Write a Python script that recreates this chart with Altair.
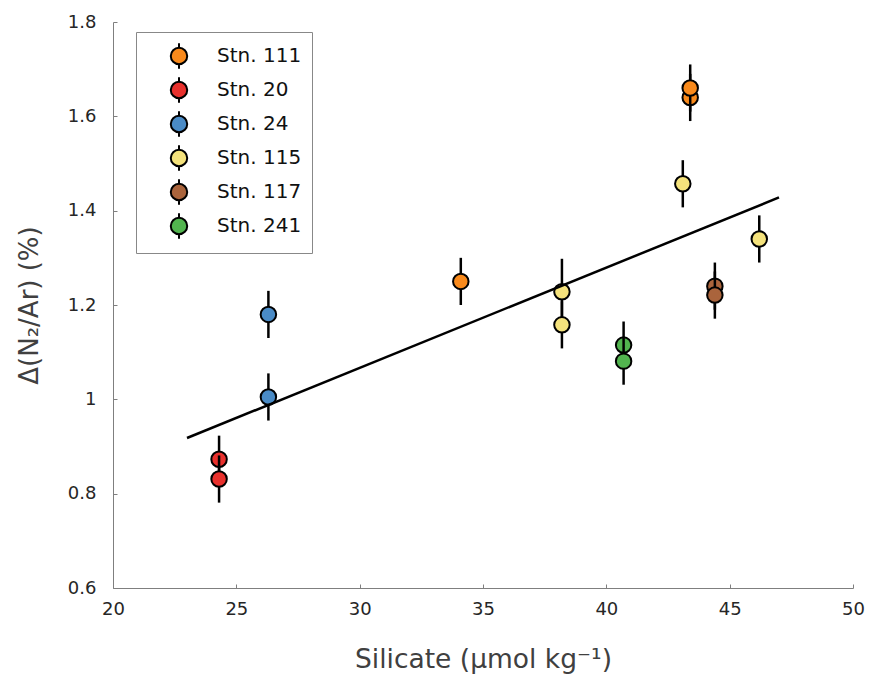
import altair as alt
import pandas as pd

stations = ["Stn. 111", "Stn. 111", "Stn. 111",
            "Stn. 20", "Stn. 20",
            "Stn. 24", "Stn. 24",
            "Stn. 115", "Stn. 115", "Stn. 115", "Stn. 115",
            "Stn. 117", "Stn. 117",
            "Stn. 241", "Stn. 241"]
silicate = [43.4, 43.4, 34.1,
            24.3, 24.3,
            26.3, 26.3,
            43.1, 38.2, 38.2, 46.2,
            44.4, 44.4,
            40.7, 40.7]
dn2ar = [1.66, 1.64, 1.25,
         0.873, 0.831,
         1.18, 1.005,
         1.457, 1.228, 1.158, 1.34,
         1.24, 1.221,
         1.115, 1.081]
err = [0.05, 0.05, 0.05,
       0.05, 0.05,
       0.05, 0.05,
       0.05, 0.07, 0.05, 0.05,
       0.05, 0.05,
       0.05, 0.05]
# drawing pass (0 first, 1 on top) for overlapping pairs
draw_pass = [1, 0, 0,
             0, 1,
             0, 0,
             0, 0, 1, 0,
             0, 1,
             0, 1]

legend_order = ["Stn. 111", "Stn. 20", "Stn. 24", "Stn. 115", "Stn. 117", "Stn. 241"]
legend_colors = ["#F98A1C", "#E8312D", "#4A8BC6", "#F4E27C", "#AA643C", "#52B44F"]

x_ticks = [20, 25, 30, 35, 40, 45, 50]
y_ticks = [0.6, 0.8, 1.0, 1.2, 1.4, 1.6, 1.8]

fit_x = [23.0, 47.0]
fit_y = [0.918, 1.428]

df = pd.DataFrame({"station": stations, "x": silicate, "y": dn2ar, "err": err, "p": draw_pass})
df["lo"] = df["y"] - df["err"]
df["hi"] = df["y"] + df["err"]
fit_df = pd.DataFrame({"x": fit_x, "y": fit_y})
dfA = df[df["p"] == 0]
dfB = df[df["p"] == 1]

W, H = 740, 566
FONT = "DejaVu Sans"
xscale = alt.Scale(domain=[20, 50], nice=False, zero=False)
yscale = alt.Scale(domain=[0.6, 1.8], nice=False, zero=False)

# tick-only axes placed on the opposite side so ticks point inward
tick_x_axis = alt.Axis(orient="top", offset=-H, labels=False, domain=False, ticks=True,
                       tickSize=4, tickColor="#7f7f7f", tickWidth=1, title=None,
                       values=x_ticks, grid=False)
tick_y_axis = alt.Axis(orient="right", offset=-W, labels=False, domain=False, ticks=True,
                       tickSize=4, tickColor="#7f7f7f", tickWidth=1, title=None,
                       values=y_ticks, grid=False)

main_x_axis = alt.Axis(orient="bottom", title="Silicate (\u03bcmol kg\u207b\u00b9)",
                       values=x_ticks, format="d", labelFlush=False,
                       ticks=False, domain=True, domainColor="#7f7f7f", domainWidth=1,
                       labelFontSize=18, labelColor="#262626", labelPadding=12, labelFont=FONT,
                       titleFontSize=26.5, titleColor="#404040", titleFont=FONT,
                       titleFontWeight="normal", titlePadding=28, grid=False)
main_y_axis = alt.Axis(orient="left", title="\u0394(N\u2082/Ar) (%)",
                       values=y_ticks, labelFlush=False,
                       labelExpr="datum.value == 1 ? '1' : format(datum.value, '.1f')",
                       ticks=False, domain=True, domainColor="#7f7f7f", domainWidth=1,
                       labelFontSize=18, labelColor="#262626", labelPadding=17, labelFont=FONT,
                       titleFontSize=26, titleColor="#404040", titleFont=FONT,
                       titleFontWeight="normal", titlePadding=25, grid=False)

color_scale = alt.Scale(domain=legend_order, range=legend_colors)

legend_symbol = "M0,-1L0,-0.64M0.64,0A0.64,0.64,0,1,1,-0.64,0A0.64,0.64,0,1,1,0.64,0M0,0.64L0,1"
legend = alt.Legend(title=None, orient="none", legendX=23, legendY=10,
                    symbolType=legend_symbol, symbolSize=660,
                    symbolStrokeColor="black", symbolStrokeWidth=2,
                    symbolOpacity=1, symbolOffset=19, labelFont=FONT, labelFontSize=20,
                    labelColor="#111111", labelOffset=24, rowPadding=0,
                    padding=10, strokeColor="#888888", fillColor="white",
                    offset=0, labelLimit=250)


def rules(data, xa, ya):
    return alt.Chart(data).mark_rule(color="black", strokeWidth=2.5).encode(
        x=alt.X("x:Q", scale=xscale, axis=xa),
        y=alt.Y("lo:Q", scale=yscale, axis=ya),
        y2="hi:Q",
    )


def points(data, xa, ya):
    return alt.Chart(data).mark_circle(stroke="black", strokeWidth=2, opacity=1, size=240).encode(
        x=alt.X("x:Q", scale=xscale, axis=xa),
        y=alt.Y("y:Q", scale=yscale, axis=ya),
        fill=alt.Fill("station:N", scale=color_scale, sort=legend_order, legend=legend),
    )


fit = alt.Chart(fit_df).mark_line(color="black", strokeWidth=2.5).encode(
    x=alt.X("x:Q", scale=xscale, axis=None),
    y=alt.Y("y:Q", scale=yscale, axis=None),
)

chart = alt.layer(
    rules(dfA, tick_x_axis, tick_y_axis),
    points(dfA, main_x_axis, main_y_axis),
    rules(dfB, None, None),
    points(dfB, None, None),
    fit,
).resolve_axis(
    x="independent", y="independent"
).properties(
    width=W, height=H,
    autosize=alt.AutoSizeParams(type="none"),
    padding={"left": 113, "top": 22, "right": 17, "bottom": 98},
    background="white",
).configure_view(stroke=None)

chart.save("out.html", embed_options={"renderer": "svg", "actions": False})
